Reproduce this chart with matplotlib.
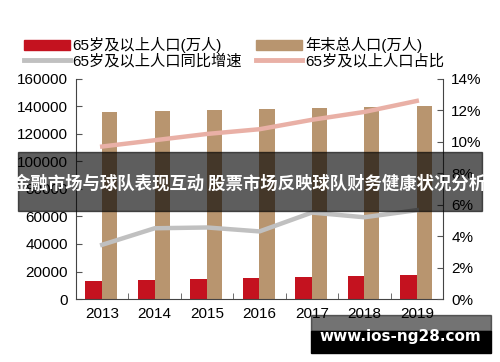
import numpy as np
import matplotlib.pyplot as plt
from matplotlib.patches import Rectangle
from matplotlib.lines import Line2D

plt.rcParams['font.family'] = ['Liberation Sans', 'Noto Sans CJK SC']

# 数据
years = ['2013', '2014', '2015', '2016', '2017', '2018', '2019']
pop_65 = [13161, 13755, 14386, 15003, 15831, 16658, 17603]          # 65岁及以上人口(万人)
pop_total = [136072, 136782, 137462, 138271, 139008, 139538, 140005]  # 年末总人口(万人)
growth_65 = [3.45, 4.5, 4.55, 4.3, 5.5, 5.2, 5.65]                    # 同比增速(%)
share_65 = [9.7, 10.1, 10.5, 10.8, 11.4, 11.9, 12.6]                  # 占比(%)

c_red = '#C4121F'
c_tan = '#B8956F'
c_gray = '#C0C0C0'
c_pink = '#E9B0A6'

fig = plt.figure(figsize=(5, 3.62), dpi=100)
ax = fig.add_axes([0.152, 0.174, 0.734, 0.608])
x = np.arange(len(years))

ax.bar(x - 0.16, pop_65, width=0.32, color=c_red, zorder=2)
ax.bar(x + 0.143, pop_total, width=0.29, color=c_tan, zorder=2)
ax.set_xlim(-0.5, 6.5)
ax.set_ylim(0, 160000)
ax.set_yticks(np.arange(0, 160001, 20000))
ax.set_xticks(x)
ax.set_xticklabels(years)
ax.set_xticks(np.arange(-0.5, 7, 1), minor=True)
ax.tick_params(axis='x', which='major', length=0, labelsize=11, pad=6)
ax.tick_params(axis='x', which='minor', direction='in', length=4, color='#555555')
ax.tick_params(axis='y', direction='in', length=4, labelsize=11, color='#555555', pad=6)
for s in ['top', 'right']:
    ax.spines[s].set_visible(False)
for s in ['left', 'bottom']:
    ax.spines[s].set_color('#444444')

ax2 = ax.twinx()
ax2.plot(x, growth_65, color=c_gray, lw=3.2, zorder=3)
ax2.plot(x, share_65, color=c_pink, lw=3.2, zorder=3)
ax2.set_ylim(0, 14)
ax2.set_yticks(np.arange(0, 15, 2))
ax2.set_yticklabels([f'{v}%' for v in range(0, 15, 2)])
ax2.tick_params(axis='y', direction='in', length=4, labelsize=11, color='#555555', pad=6)
for s in ['top', 'left', 'bottom']:
    ax2.spines[s].set_visible(False)
ax2.spines['right'].set_color('#444444')

# 图例
handles = [
    Rectangle((0, 0), 1, 1, color=c_red),
    Line2D([], [], color=c_gray, lw=3.5),
    Rectangle((0, 0), 1, 1, color=c_tan),
    Line2D([], [], color=c_pink, lw=3.5),
]
labels = ['65岁及以上人口(万人)', '65岁及以上人口同比增速',
          '年末总人口(万人)', '65岁及以上人口占比']
fig.legend(handles, labels, ncol=2, loc='upper left', bbox_to_anchor=(0.02, 0.935),
           frameon=False, fontsize=11, handlelength=3.0, handleheight=0.7,
           handletextpad=0.2, columnspacing=0.9, labelspacing=0.05)

# 覆盖的标题条
fig.patches.append(Rectangle((0.036, 1 - 211 / 362), 0.928, 59 / 362,
                             transform=fig.transFigure, color='black', alpha=0.63, zorder=5))
fig.text(0.5, 1 - 184 / 362, '金融市场与球队表现互动 股票市场反映球队财务健康状况分析',
         ha='center', va='center', color='white', fontsize=12.5, fontweight='bold',
         family=['Noto Sans CJK SC', 'DejaVu Sans'], zorder=6)

# 水印
fig.patches.append(Rectangle((311 / 500, 1 - 331 / 362), 180 / 500, 16 / 362,
                             transform=fig.transFigure, color='black', alpha=0.55, zorder=5))
fig.patches.append(Rectangle((311 / 500, 1 - 353 / 362), 180 / 500, 22 / 362,
                             transform=fig.transFigure, color='black', zorder=5))
fig.text(400 / 500, 1 - 337 / 362, 'www.ios-ng28.com', ha='center', va='center',
         color='white', fontsize=11, fontweight='bold', family='DejaVu Sans', zorder=6)

fig.savefig('out.png', dpi=100)
